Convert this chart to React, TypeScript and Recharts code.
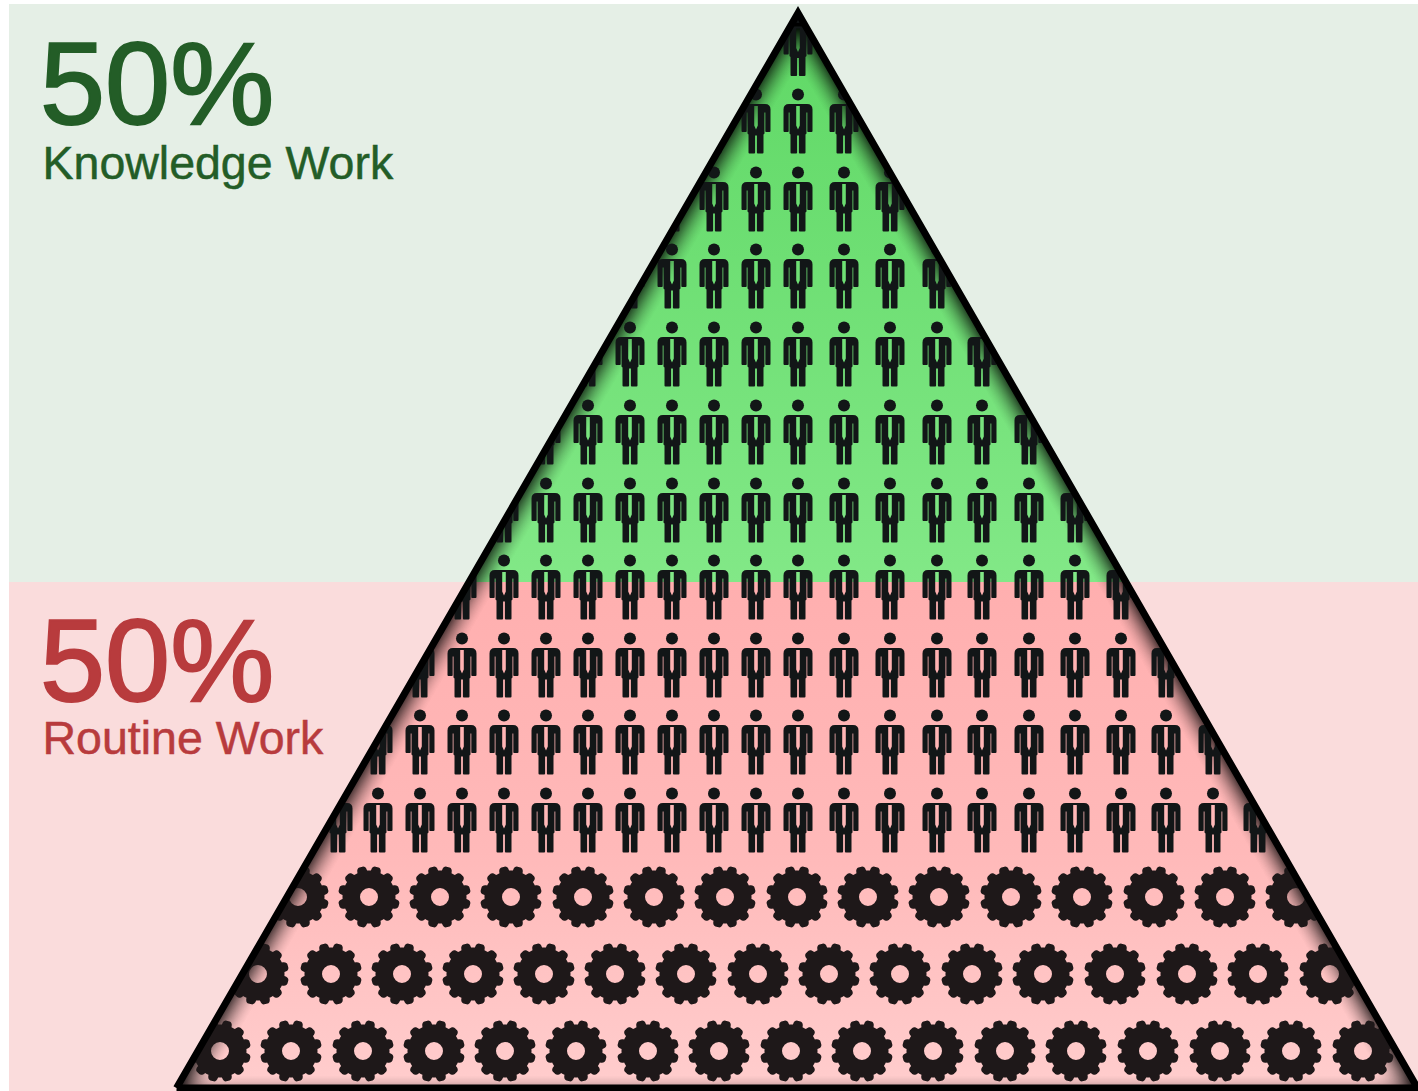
import React from 'react';
import {
  ComposedChart,
  Area,
  Line,
  Scatter,
  XAxis,
  YAxis,
  ReferenceArea,
  usePlotArea,
} from 'recharts';

const CHART_W = 1418;
const CHART_H = 1091;

// Chart units are laid out on the infographic's own grid.
const xDomain = [0, CHART_W];
const yDomain = [0, CHART_H];

// Bands behind the pyramid
const bandLeft = 9;
const bandTop = 4;
const bandSplit = 582;

// Pyramid vertices
const pyramidBaseY = 1088;
const pyramidX = [176.5, 798, 1417.5];
const pyramidY = [pyramidBaseY, 13, pyramidBaseY];

// Rows and columns of people
const personRows = [44, 121.5, 199.5, 276.5, 354.5, 432.5, 510.5, 587.5, 665.5, 742.5, 820.5];
const personColumns = [
  338, 378, 420, 462, 504, 546, 588, 630, 672, 714, 756, 798,
  844, 890, 937, 982, 1029, 1075, 1121, 1166, 1213, 1258,
];

// Rows of gears
const gearRowY = [897, 974, 1051];
const gearRowX = [
  [298, 369, 440, 511, 583, 654, 725, 797, 868, 939, 1011, 1082, 1154, 1225, 1296],
  [258, 331, 402, 473, 544, 615, 686, 758, 829, 900, 972, 1043, 1115, 1187, 1258, 1330],
  [220, 291, 363, 434, 505, 576, 648, 719, 791, 862, 933, 1005, 1076, 1148, 1220, 1291, 1363],
];

// Captions
const knowledgeShare = 50;
const routineShare = 50;
const knowledgeLabel = 'Knowledge Work';
const routineLabel = 'Routine Work';
const knowledgeColor = '#235D27';
const routineColor = '#B83B3D';

const pyramidData = pyramidX.map((x, i) => ({ x, y: pyramidY[i] }));
const outlineData = [...pyramidData, pyramidData[0]];
const personData = personRows.flatMap((y) => personColumns.map((x) => ({ x, y })));
const gearData = gearRowY.flatMap((y, i) => gearRowX[i].map((x) => ({ x, y })));
const captionData = [
  { x: 40, y: 123.5, text: `${knowledgeShare}%`, size: 117, weight: 2, color: knowledgeColor },
  { x: 42.5, y: 179, text: knowledgeLabel, size: 46.5, weight: 0.5, color: knowledgeColor },
  { x: 40, y: 700.5, text: `${routineShare}%`, size: 117, weight: 2, color: routineColor },
  { x: 42.5, y: 754, text: routineLabel, size: 46.5, weight: 0.5, color: routineColor },
];

const CLIP_ID = 'pyramid-clip';

// Outline of a twelve-toothed gear with a round hole, centred on the origin.
function buildGearPath(): string {
  const teeth = 12;
  const rOuter = 31;
  const rRoot = 26.5;
  const parts: string[] = [];
  const point = (r: number, a: number) =>
    `${(r * Math.cos(a)).toFixed(2)} ${(r * Math.sin(a)).toFixed(2)}`;
  for (let i = 0; i < teeth; i++) {
    const c = ((i + 0.5) * 2 * Math.PI) / teeth - Math.PI / 2;
    const step = (2 * Math.PI) / teeth;
    const a0 = c - step * 0.36;
    const a1 = c - step * 0.1;
    const a2 = c + step * 0.1;
    const a3 = c + step * 0.36;
    parts.push(`${i === 0 ? 'M' : 'L'} ${point(rRoot, a0)}`);
    parts.push(`C ${point(rOuter - 1, a0 + step * 0.05)} ${point(rOuter, a1 - step * 0.1)} ${point(rOuter, a1)}`);
    parts.push(`L ${point(rOuter, a2)}`);
    parts.push(`C ${point(rOuter, a2 + step * 0.1)} ${point(rOuter - 1, a3 - step * 0.05)} ${point(rRoot, a3)}`);
    parts.push(`A ${rRoot} ${rRoot} 0 0 1 ${point(rRoot, a3 + step * 0.28)}`);
  }
  parts.push('Z');
  parts.push('M 9 0 A 9 9 0 1 0 -9 0 A 9 9 0 1 0 9 0 Z');
  return parts.join(' ');
}

const GEAR_PATH = buildGearPath();

const PERSON_BODY =
  'M -9 -17.5 L 9 -17.5 Q 14.5 -17.5 14.5 -12 L 14.5 9.5 Q 14.5 10.5 13.5 10.5 L 10 10.5 Q 9.3 10.5 9.3 9.5 L 9.3 -9 L 8.5 -9 L 8.5 12 L 7.5 13 L 7.5 31 Q 7.5 32 6.5 32 ' +
  'L 1.8 32 Q 0.9 32 0.9 31 L 0.9 14 L -0.9 14 L -0.9 31 Q -0.9 32 -1.8 32 L -6.5 32 Q -7.5 32 -7.5 31 L -7.5 13 L -8.5 12 L -8.5 -9 L -9.3 -9 ' +
  'L -9.3 9.5 Q -9.3 10.5 -10 10.5 L -13.5 10.5 Q -14.5 10.5 -14.5 9.5 L -14.5 -12 Q -14.5 -17.5 -9 -17.5 Z ' +
  // shirt opening around the tie
  'M -1.8 -15.5 L -1.8 4 L 0 8 L 1.8 4 L 1.8 -15.5 Z';

const PersonIcon = ({ cx, cy }: any) => (
  <g clipPath={`url(#${CLIP_ID})`}>
    <g transform={`translate(${cx} ${cy})`} fill="#121617">
      <circle cx={0} cy={-27} r={6} />
      <path d={PERSON_BODY} fillRule="evenodd" />
    </g>
  </g>
);

const GearIcon = ({ cx, cy }: any) => (
  <g clipPath={`url(#${CLIP_ID})`}>
    <path d={GEAR_PATH} transform={`translate(${cx} ${cy})`} fill="#1E1819" fillRule="evenodd" />
  </g>
);

const Caption = ({ cx, cy, payload }: any) => (
  <text
    x={cx}
    y={cy}
    fontFamily="'Liberation Sans', Arial, sans-serif"
    fontSize={payload.size}
    fill={payload.color}
    stroke={payload.color}
    strokeWidth={payload.weight}
  >
    {payload.text}
  </text>
);

// Shared paint servers and the clip that keeps icons inside the pyramid.
const PyramidDefs = () => {
  const plot = usePlotArea();
  if (!plot) return null;
  const sx = (v: number) => plot.x + ((v - xDomain[0]) / (xDomain[1] - xDomain[0])) * plot.width;
  const sy = (v: number) => plot.y + ((v - yDomain[0]) / (yDomain[1] - yDomain[0])) * plot.height;
  const points = pyramidX.map((x, i) => `${sx(x)},${sy(pyramidY[i])}`).join(' ');
  const top = Math.min(...pyramidY);
  const splitAt = (bandSplit - top) / (pyramidBaseY - top);
  return (
    <defs>
      <clipPath id={CLIP_ID}>
        <polygon points={points} />
      </clipPath>
      <linearGradient id="pyramid-fill" x1="0" y1="0" x2="0" y2="1">
        <stop offset={0} stopColor="#5FD865" />
        <stop offset={splitAt} stopColor="#82E887" />
        <stop offset={splitAt} stopColor="#FFAFAF" />
        <stop offset={0.78} stopColor="#FFB9B9" />
        <stop offset={1} stopColor="#FFCDCD" />
      </linearGradient>
      {/* Dark inner shadow that follows the pyramid's edges, dropped slightly so the base stays light */}
      <filter
        id="inner-shadow"
        filterUnits="userSpaceOnUse"
        x={-100}
        y={-100}
        width={CHART_W + 200}
        height={CHART_H + 200}
        colorInterpolationFilters="sRGB"
      >
        <feFlood floodColor="#000" floodOpacity={1} result="ink" />
        <feComposite in="ink" in2="SourceAlpha" operator="out" result="outside" />
        <feOffset in="outside" dy={9} result="lowered" />
        <feGaussianBlur in="lowered" stdDeviation={13} result="soft" />
        <feComponentTransfer in="soft" result="deep">
          <feFuncA type="linear" slope={1.35} intercept={-0.05} />
        </feComponentTransfer>
        <feComposite in="deep" in2="SourceAlpha" operator="in" result="shadow" />
        <feMerge>
          <feMergeNode in="SourceGraphic" />
          <feMergeNode in="shadow" />
        </feMerge>
      </filter>
    </defs>
  );
};

export default function App() {
  return (
    <div style={{ position: 'absolute', left: 0, top: 0, width: CHART_W, height: CHART_H }}>
      <ComposedChart
        width={CHART_W}
        height={CHART_H}
        margin={{ top: 0, right: 0, bottom: 0, left: 0 }}
      >
        <PyramidDefs />
        <XAxis type="number" dataKey="x" domain={xDomain} hide allowDataOverflow />
        <YAxis type="number" dataKey="y" domain={yDomain} reversed hide allowDataOverflow />
        <ReferenceArea
          x1={bandLeft}
          x2={CHART_W}
          y1={bandTop}
          y2={bandSplit}
          fill="#E5EFE6"
          fillOpacity={1}
          stroke="none"
          zIndex={1}
        />
        <ReferenceArea
          x1={bandLeft}
          x2={CHART_W}
          y1={bandSplit}
          y2={CHART_H}
          fill="#FADCDC"
          fillOpacity={1}
          stroke="none"
          zIndex={1}
        />
        <Area
          data={pyramidData}
          dataKey="y"
          baseValue={pyramidBaseY}
          type="linear"
          fill="url(#pyramid-fill)"
          fillOpacity={1}
          stroke="none"
          filter="url(#inner-shadow)"
          dot={false}
          activeDot={false}
          isAnimationActive={false}
          zIndex={2}
        />
        <Scatter data={personData} dataKey="y" shape={PersonIcon} isAnimationActive={false} zIndex={4} />
        <Scatter data={gearData} dataKey="y" shape={GearIcon} isAnimationActive={false} zIndex={4} />
        <Line
          data={outlineData}
          dataKey="y"
          type="linear"
          stroke="#000"
          strokeWidth={7}
          strokeLinejoin="miter"
          strokeMiterlimit={6}
          dot={false}
          activeDot={false}
          isAnimationActive={false}
          zIndex={5}
        />
        <Scatter data={captionData} dataKey="y" shape={Caption} isAnimationActive={false} zIndex={6} />
      </ComposedChart>
    </div>
  );
}
